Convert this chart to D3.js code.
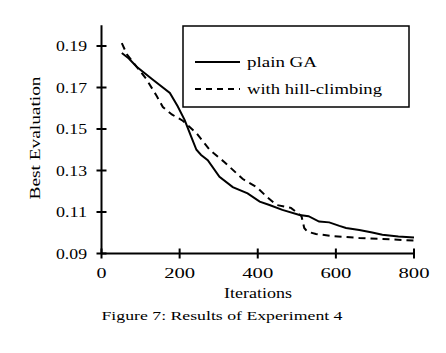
<!DOCTYPE html>
<html><head><meta charset="utf-8">
<script src="https://cdn.jsdelivr.net/npm/d3@7"></script>
<style>body{margin:0;background:#fff}svg{display:block}text{font-family:"Liberation Serif","Times New Roman",serif;fill:#000}</style>
</head><body>
<script>
const xTicks = [0, 200, 400, 600, 800];
const yTicks = [0.09, 0.11, 0.13, 0.15, 0.17, 0.19];
const plainIter = [52,70,90,130,175,195,213,228,243,255,272,302,336,374,405,430,463,507,530,557,583,609,626,660,693,719,760,800];
const plainVal = [0.1866,0.184,0.180,0.174,0.1674,0.161,0.1543,0.147,0.140,0.1375,0.135,0.127,0.122,0.119,0.115,0.1134,0.111,0.1086,0.108,0.1054,0.105,0.1033,0.1023,0.1013,0.1001,0.099,0.0982,0.0977];
const hillIter = [52,65,90,115,141,157,180,208,243,277,315,361,397,425,448,485,512,519,527,549,591,660,720,800];
const hillVal = [0.1914,0.186,0.180,0.174,0.166,0.1606,0.157,0.154,0.148,0.140,0.134,0.126,0.122,0.117,0.1134,0.112,0.108,0.1023,0.1005,0.0994,0.0984,0.0975,0.097,0.0962];
const seriesNames = ["plain GA", "with hill-climbing"];

const W = 446, H = 353;
const svg = d3.select("body").append("svg").attr("width", W).attr("height", H);
const x = d3.scaleLinear().domain([0, 800]).range([101.5, 414]);
const y = d3.scaleLinear().domain([0.09, 0.20]).range([253.5, 25.25]);

// axes
const ax = svg.append("g").attr("stroke", "#000").attr("stroke-width", 2);
ax.append("line").attr("x1", x(0)).attr("x2", x(0)).attr("y1", y(0.20)).attr("y2", y(0.09));
ax.append("line").attr("x1", x(0)).attr("x2", x(800)).attr("y1", y(0.09)).attr("y2", y(0.09));
yTicks.forEach(v => ax.append("line").attr("x1", x(0) - 5).attr("x2", x(0) + 5).attr("y1", y(v)).attr("y2", y(v)));
xTicks.forEach(v => ax.append("line").attr("x1", x(v)).attr("x2", x(v)).attr("y1", y(0.09) - 5).attr("y2", y(0.09) + 5));

svg.selectAll(".yl").data(yTicks).enter().append("text")
  .attr("x", 87).attr("y", d => y(d) + 5).attr("text-anchor", "end")
  .attr("font-size", 15).attr("textLength", 31).attr("lengthAdjust", "spacingAndGlyphs")
  .text(d => d.toFixed(2));
svg.selectAll(".xl").data(xTicks).enter().append("text")
  .attr("x", d => x(d)).attr("y", 278).attr("text-anchor", "middle")
  .attr("font-size", 15)
  .each(function(d){ const s = String(d); d3.select(this).attr("textLength", s.length === 1 ? 10 : 31).attr("lengthAdjust", "spacingAndGlyphs").text(s); });

svg.append("text").attr("x", 258).attr("y", 298).attr("text-anchor", "middle")
  .attr("font-size", 15).attr("textLength", 68).attr("lengthAdjust", "spacingAndGlyphs").text("Iterations");
svg.append("text").attr("transform", "translate(40,138) rotate(-90)").attr("text-anchor", "middle")
  .attr("font-size", 15).attr("textLength", 123).attr("lengthAdjust", "spacingAndGlyphs").text("Best Evaluation");
svg.append("text").attr("x", 222).attr("y", 320).attr("text-anchor", "middle")
  .attr("font-size", 12).attr("textLength", 241).attr("lengthAdjust", "spacingAndGlyphs").text("Figure 7: Results of Experiment 4");

// lines
const line = d3.line().x(d => x(d[0])).y(d => y(d[1])).curve(d3.curveLinear);
const plain = d3.zip(plainIter, plainVal);
const hill = d3.zip(hillIter, hillVal);
svg.append("path").attr("d", line(plain)).attr("fill", "none").attr("stroke", "#000").attr("stroke-width", 2);
svg.append("path").attr("d", line(hill)).attr("fill", "none").attr("stroke", "#000").attr("stroke-width", 2).attr("stroke-dasharray", "7,5");

// legend
const lg = svg.append("g");
lg.append("rect").attr("x", 183).attr("y", 26).attr("width", 226).attr("height", 81)
  .attr("fill", "#fff").attr("stroke", "#000").attr("stroke-width", 1.5);
lg.append("line").attr("x1", 195).attr("x2", 240).attr("y1", 62).attr("y2", 62).attr("stroke", "#000").attr("stroke-width", 2);
lg.append("line").attr("x1", 195).attr("x2", 240).attr("y1", 89).attr("y2", 89).attr("stroke", "#000").attr("stroke-width", 2).attr("stroke-dasharray", "6,5");
lg.append("text").attr("x", 247).attr("y", 67).attr("font-size", 15).attr("textLength", 70).attr("lengthAdjust", "spacingAndGlyphs").text(seriesNames[0]);
lg.append("text").attr("x", 247).attr("y", 94).attr("font-size", 15).attr("textLength", 135).attr("lengthAdjust", "spacingAndGlyphs").text(seriesNames[1]);
</script>
</body></html>
